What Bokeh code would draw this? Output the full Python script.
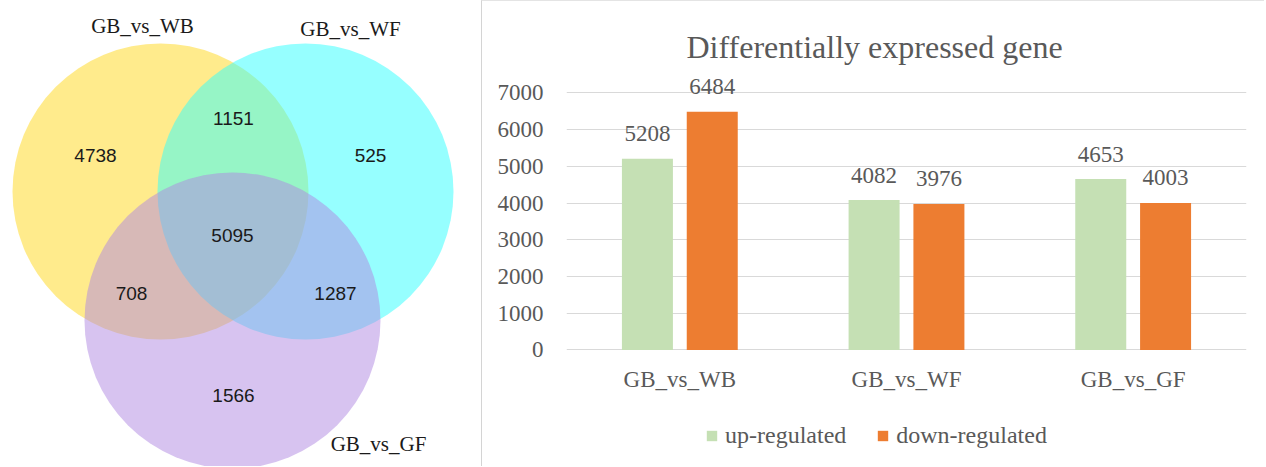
from bokeh.plotting import figure
from bokeh.layouts import row
from bokeh.models import (ColumnDataSource, Range1d, FactorRange, FixedTicker,
                          LabelSet, Legend, LegendItem)
from bokeh.transform import dodge
from bokeh.core.properties import value
from bokeh.embed import file_html
from bokeh.resources import INLINE

# ---------------- data ----------------
venn_sets = ["GB_vs_WB", "GB_vs_WF", "GB_vs_GF"]
venn_regions = ["WB_only", "WB_WF", "WF_only", "all", "WB_GF", "WF_GF", "GF_only"]
venn_counts = [4738, 1151, 525, 5095, 708, 1287, 1566]

comparisons = ["GB_vs_WB", "GB_vs_WF", "GB_vs_GF"]
up_regulated = [5208, 4082, 4653]
down_regulated = [6484, 3976, 4003]
y_ticks = [0, 1000, 2000, 3000, 4000, 5000, 6000, 7000]

# ---------------- layout / styles ----------------
SERIF = "Liberation Serif"
SANS = "Liberation Sans"
TXT = "#595959"
H = 466

# Venn geometry (layout units = pixels of the panel)
circle_layout = {
    "GB_vs_WB": dict(cx=160, cy=191, r=148, color="#FFD719", lx=142, ly=25),
    "GB_vs_WF": dict(cx=305, cy=191, r=148, color="#2DFFFF", lx=350, ly=28),
    "GB_vs_GF": dict(cx=232, cy=320, r=148, color="#AF87E1", lx=378, ly=443),
}
region_layout = {
    "WB_only": (95, 155), "WB_WF": (233, 118), "WF_only": (370, 155),
    "all": (232, 235), "WB_GF": (131, 293), "WF_GF": (335, 293),
    "GF_only": (233, 395),
}

# ---------------- Venn figure ----------------
v = figure(width=481, height=H, x_range=Range1d(0, 481), y_range=Range1d(H, 0),
           output_backend="svg", toolbar_location=None, min_border=0,
           x_axis_type=None, y_axis_type=None)
v.frame_align = False
v.grid.visible = False
v.outline_line_color = None

circ = ColumnDataSource(dict(
    x=[circle_layout[s]["cx"] for s in venn_sets],
    y=[circle_layout[s]["cy"] for s in venn_sets],
    r=[circle_layout[s]["r"] for s in venn_sets],
    c=[circle_layout[s]["color"] for s in venn_sets],
    lx=[circle_layout[s]["lx"] for s in venn_sets],
    ly=[circle_layout[s]["ly"] for s in venn_sets],
    name=venn_sets,
))
v.circle(x="x", y="y", radius="r", fill_color="c", fill_alpha=0.5,
         line_color=None, source=circ)
v.text(x="lx", y="ly", text="name", source=circ, text_font=value(SERIF),
       text_font_size="21px", text_color="#1a1a1a", text_align="center",
       text_baseline="middle")

reg = ColumnDataSource(dict(
    x=[region_layout[r][0] for r in venn_regions],
    y=[region_layout[r][1] for r in venn_regions],
    t=[str(n) for n in venn_counts],
))
v.text(x="x", y="y", text="t", source=reg, text_font=value(SANS),
       text_font_size="19px", text_color="#1a1a1a", text_align="center",
       text_baseline="middle")

# ---------------- Bar figure ----------------
src = ColumnDataSource(dict(cat=comparisons, up=up_regulated, down=down_regulated,
                            up_t=[str(x) for x in up_regulated],
                            down_t=[str(x) for x in down_regulated]))

# frame spans from the title down to the legend; y=0 sits at the category axis
p = figure(width=783, height=H, x_range=FactorRange(*comparisons),
           y_range=Range1d(-3094, 7500), output_backend="svg", toolbar_location=None,
           min_border_left=84, min_border_right=19, min_border_top=73,
           min_border_bottom=4)
p.frame_align = False
p.styles = {"border-left": "1px solid #d4d4d4", "border-top": "1px solid #e4e4e4"}
p.outline_line_color = None
p.title.text = "Differentially expressed gene"
p.title.text_font = SERIF
p.title.text_font_size = "32px"
p.title.text_font_style = "normal"
p.title.text_color = TXT
p.title.align = "left"
p.title.offset = 120
p.title.standoff = 20

r_up = p.vbar(x=dodge("cat", -0.143, range=p.x_range), top="up", width=0.225,
              fill_color="#C5E0B4", line_color=None, source=src)
r_dn = p.vbar(x=dodge("cat", 0.143, range=p.x_range), top="down", width=0.225,
              fill_color="#ED7D31", line_color=None, source=src)

for col, off in (("up", -0.143), ("down", 0.143)):
    p.add_layout(LabelSet(x=dodge("cat", off, range=p.x_range), y=col, text=col + "_t",
                          source=src, text_align="center", text_baseline="middle",
                          y_offset=25, text_font=value(SERIF), text_font_size="23px",
                          text_color=TXT))

p.xgrid.visible = False
p.ygrid.grid_line_color = "#D9D9D9"
p.ygrid.grid_line_width = 1.2
p.yaxis.ticker = FixedTicker(ticks=y_ticks)
p.xaxis.fixed_location = 0
p.xaxis.axis_line_color = None
p.yaxis.axis_line_color = None
for ax in (p.xaxis[0], p.yaxis[0]):
    ax.major_tick_line_color = None
    ax.minor_tick_line_color = None
    ax.major_label_text_font = SERIF
    ax.major_label_text_color = TXT
p.yaxis.major_label_text_font_size = "23px"
p.yaxis.major_label_standoff = 17
p.xaxis.major_label_text_font_size = "23px"
p.xaxis.major_label_standoff = 11

legend = Legend(items=[LegendItem(label="up-regulated", renderers=[r_up]),
                       LegendItem(label="down-regulated", renderers=[r_dn])],
                location=(139, 14), orientation="horizontal",
                label_text_font=SERIF, label_text_font_size="24px",
                label_text_color=TXT, glyph_width=13, glyph_height=13,
                label_standoff=7, spacing=30, padding=0, margin=0,
                border_line_color=None, background_fill_alpha=0)
p.add_layout(legend, "center")

layout = row(v, p)
open("out.html", "w").write(file_html(layout, INLINE))
